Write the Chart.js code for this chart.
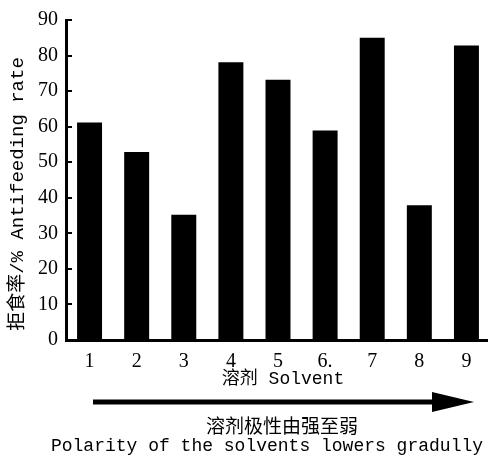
<!DOCTYPE html>
<html>
<head>
<meta charset="utf-8">
<script src="https://cdn.jsdelivr.net/npm/chart.js@4/dist/chart.umd.min.js"></script>
<style>
  html, body { margin: 0; padding: 0; background: #fff; overflow: hidden; }
  #wrap { width: 490px; height: 463px; }
</style>
</head>
<body>
<div id="wrap"><canvas id="chart"></canvas></div>
<script>
// solvent numbers and antifeeding rate (%)
const solvents = ['1', '2', '3', '4', '5', '6.', '7', '8', '9']
const antifeedingRate = [61.2, 52.9, 35.2, 78.1, 73.2, 58.9, 85.0, 37.9, 82.8]
const yTicks = [0, 10, 20, 30, 40, 50, 60, 70, 80, 90]

const MONO = "'Liberation Mono', 'Noto Sans CJK SC', monospace"
const SERIF = "'Liberation Serif', serif"

// axis decorations + captions below the axis
const extras = {
  id: 'extras',
  afterDraw(chart) {
    const { ctx, chartArea, scales } = chart
    const y = scales.y
    ctx.save()
    ctx.strokeStyle = '#000'
    ctx.fillStyle = '#000'

    // inward tick marks on the y axis
    ctx.lineWidth = 2
    yTicks.forEach(v => {
      const py = Math.round(y.getPixelForValue(v))
      ctx.beginPath()
      ctx.moveTo(chartArea.left, py)
      ctx.lineTo(chartArea.left + 6, py)
      ctx.stroke()
    })

    // y axis title
    ctx.save()
    ctx.translate(18, 194)
    ctx.rotate(-Math.PI / 2)
    ctx.font = '19px ' + MONO
    ctx.textAlign = 'center'
    ctx.textBaseline = 'middle'
    ctx.fillText('拒食率/% Antifeeding rate', 0, 0)
    ctx.restore()

    // x axis title
    ctx.textAlign = 'center'
    ctx.textBaseline = 'middle'
    ctx.font = '18px ' + MONO
    ctx.fillText('溶剂 Solvent', 283, 379)

    // arrow
    ctx.lineWidth = 5
    ctx.beginPath()
    ctx.moveTo(93, 402)
    ctx.lineTo(436, 402)
    ctx.stroke()
    ctx.beginPath()
    ctx.moveTo(474, 402)
    ctx.lineTo(432, 392)
    ctx.lineTo(432, 412)
    ctx.closePath()
    ctx.fill()

    // captions
    ctx.font = "19px 'Noto Sans CJK SC', sans-serif"
    ctx.fillText('溶剂极性由强至弱', 282, 426)
    ctx.font = '18px ' + MONO
    ctx.fillText('Polarity of the solvents lowers gradully', 267, 446)
    ctx.restore()
  }
}

new Chart(document.getElementById('chart'), {
  type: 'bar',
  data: {
    labels: solvents,
    datasets: [{
      data: antifeedingRate,
      backgroundColor: '#000',
      borderWidth: 0,
      barPercentage: 0.53,
      categoryPercentage: 1
    }]
  },
  options: {
    responsive: true,
    maintainAspectRatio: false,
    animation: false,
    devicePixelRatio: 1,
    layout: { padding: { top: 20, right: 0, bottom: 0, left: 0 } },
    plugins: { legend: { display: false }, tooltip: { enabled: false } },
    scales: {
      x: {
        grid: { display: false, drawTicks: false },
        border: { color: '#000', width: 3 },
        ticks: { color: '#000', padding: 10, font: { family: SERIF, size: 20 } },
        afterFit(scale) { scale.height = 123 }
      },
      y: {
        min: 0,
        max: 90,
        grid: { display: false, drawTicks: false },
        border: { color: '#000', width: 3 },
        ticks: { color: '#000', stepSize: 10, padding: 8, font: { family: SERIF, size: 20 } },
        afterFit(scale) { scale.width = 66 }
      }
    }
  },
  plugins: [extras]
})
</script>
</body>
</html>
